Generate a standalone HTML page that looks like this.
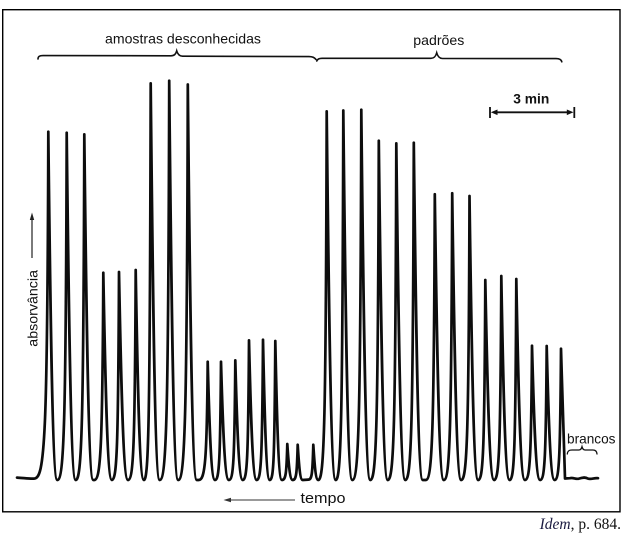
<!DOCTYPE html>
<html>
<head>
<meta charset="utf-8">
<style>
  html, body { margin: 0; padding: 0; background: #ffffff; }
  svg { display: block; }
  text { font-family: "Liberation Sans", "DejaVu Sans", sans-serif; fill: #111; }
</style>
</head>
<body>
<svg width="622" height="533" viewBox="0 0 622 533" xmlns="http://www.w3.org/2000/svg">
  <rect x="0" y="0" width="622" height="533" fill="#ffffff"/>
  <!-- frame -->
  <rect x="2.7" y="9.7" width="617.3" height="502.1" fill="none" stroke="#000" stroke-width="1.4"/>

  <!-- top labels -->
  <text x="105" y="43.4" font-size="14" textLength="156" lengthAdjust="spacingAndGlyphs">amostras desconhecidas</text>
  <text x="413.3" y="45" font-size="14" textLength="51" lengthAdjust="spacingAndGlyphs">padrões</text>

  <!-- braces -->
  <path d="M38,59 C38,56.5 39.5,55.6 43,55.6 L171,55.8 C174.5,55.8 175.8,54 176.7,50.8 C177.6,54 179,56.2 182.5,56.2 L309,56.6 C312.5,56.6 314.5,57.5 316,59.5" fill="none" stroke="#111" stroke-width="1.6" stroke-linecap="round"/>
  <path d="M316.8,61 C317.5,59 319,58.3 322,58.3 L431,58.3 C434.5,58.3 435.8,56 436.7,52.8 C437.6,56 439,58.5 442.5,58.5 L556,58.6 C559.5,58.6 561.3,59.5 561.8,61.8" fill="none" stroke="#111" stroke-width="1.6" stroke-linecap="round"/>

  <!-- 3 min scale -->
  <text x="513.3" y="103.3" font-size="14" font-weight="bold" textLength="36" lengthAdjust="spacingAndGlyphs">3 min</text>
  <path d="M494,112.3 L570,112.3" stroke="#111" stroke-width="1.8"/>
  <path d="M490,107 V118 M574.3,107 V118" stroke="#111" stroke-width="1.8"/>
  <polygon points="490.8,112.3 497.5,109.5 497.5,115.1" fill="#111"/>
  <polygon points="573.5,112.3 566.8,109.5 566.8,115.1" fill="#111"/>

  <!-- absorvância axis label -->
  <text transform="translate(37.5,346.7) rotate(-90)" font-size="14" textLength="76.7" lengthAdjust="spacingAndGlyphs">absorvância</text>
  <path d="M32,258 L32,219" stroke="#222" stroke-width="1.2"/>
  <polygon points="32,212.5 29.8,220 34.2,220" fill="#222"/>

  <!-- tempo -->
  <path d="M229,500 L295,500" stroke="#333" stroke-width="1.1"/>
  <polygon points="223.5,500 231,497.8 231,502.2" fill="#333"/>
  <text x="300.5" y="503" font-size="14.5" textLength="45" lengthAdjust="spacingAndGlyphs">tempo</text>

  <!-- brancos -->
  <text x="567" y="443.3" font-size="13.7" textLength="48.5" lengthAdjust="spacingAndGlyphs">brancos</text>
  <path d="M567.3,454 C567.5,451 569,450 572,450 L579,450 C581,450 581.5,448.5 582,446.7 C582.5,448.5 583,450 585,450 L593,450 C595.5,450 596.8,451.5 597,454" fill="none" stroke="#111" stroke-width="1.3" stroke-linecap="round"/>

  <!-- signal trace -->
  <path fill="none" stroke="#0d0d0d" stroke-width="2.7" stroke-linejoin="round" stroke-linecap="round" d="
M17,477.6 C24,478 29,478.8 34,478.6
C44.7,478.6 47.5,443.9 48.3,131.7
C50.3,305.9 52.3,480 57.3,480
C63.9,480 65.9,427.9 66.7,132.7
C68.7,306.4 70.7,480 75.7,480
C81.7,480 83.5,428.1 84.3,134.3
C86.3,307.2 88.3,480 93.3,480
L94.3,480
C100.6,480 102.5,448.9 103.3,272.7
C105.3,376.4 107.1,480 111.9,480
C116.9,480 118.2,448.8 119,272
C121,376 123,480 128,480
C133.4,480 134.9,448.5 135.7,270
C137.5,375 139.3,480 143.9,480
C148.7,480 149.9,420.5 150.7,83.3
C152.7,281.7 154.7,480 159.7,480
C166.4,480 168.4,420.1 169.2,80.7
C171.2,280.4 173.2,480 178.2,480
C184.9,480 187,420.7 187.8,84.5
C189.8,282.3 191.8,480 196.8,480
L198.7,480
C205,480 206.9,462.3 207.7,361.7
C209.3,420.9 210.9,480 215,480
C219.2,480 220.2,462.3 221,361.7
C222.7,420.9 224.5,480 228.9,480
C233.4,480 234.5,462 235.3,360.3
C236.9,420.2 238.6,480 242.8,480
C247.1,480 248.2,459 249,340.3
C250.7,410.2 252.4,480 256.7,480
C261.1,480 262.2,459 263,339.7
C264.5,409.9 266,480 269.8,480
C273.7,480 274.5,459.2 275.3,341
C276.8,410.5 278.2,480 281.9,480
C285.7,480 286.5,474.6 287.3,444
C288.5,462 289.7,480 292.7,480
C296.2,480 296.9,474.7 297.7,444.7
C298.8,462.3 299.9,480 302.7,480
L308.3,479.6
C311.8,479.6 312.5,474.7 313.3,444.7
C314.4,462.3 315.5,480 318.3,480
C324.2,480 325.9,424.7 326.7,111.3
C328.7,295.7 330.7,480 335.7,480
C341,480 342.5,424.6 343.3,110.5
C345.3,295.3 347.3,480 352.3,480
C358.6,480 360.5,424.5 361.3,109.7
C363.3,294.9 365.3,480 370.3,480
C376.3,480 378,429.1 378.8,140.7
C380.8,310.4 382.8,480 387.8,480
C393.8,480 395.5,429.5 396.3,143.3
C398.3,311.7 400.3,480 405.3,480
C411.3,480 413,429.4 413.8,142.7
C415.8,311.4 417.8,480 422.8,480
L425.8,480
C432.1,480 434,437.1 434.8,194.2
C436.8,337.1 438.8,480 443.8,480
C449.7,480 451.4,437 452.2,193.2
C454.2,336.6 456.2,480 461.2,480
C467,480 468.7,437.4 469.5,196
C471.5,338 473.3,480 478.2,480
C483.2,480 484.5,450 485.3,280
C487.3,380 489.2,480 494.1,480
C499.1,480 500.5,449.4 501.3,276
C503.1,378 504.9,480 509.6,480
C514.3,480 515.5,449.9 516.3,279
C518.2,379.5 520.1,480 524.9,480
C529.9,480 531.2,459.9 532,345.7
C533.8,412.9 535.6,480 540.1,480
C544.7,480 545.9,459.9 546.7,346
C548.4,413 550.2,480 554.6,480
C559.1,480 560.2,460.3 561,348.7
C562.5,400 564.5,460 565,478.5
L570,478.2 C573,477.2 576,479.6 579,478.6 C582,477.6 585,476.8 588,478.6 C591,479.6 594,477.8 598,478.2"/>

  <!-- citation -->
  <text x="621" y="529" text-anchor="end" font-size="15.5" style="font-family:'Liberation Serif','DejaVu Serif',serif;"><tspan font-style="italic" fill="#1a1a40">Idem</tspan>, p. 684.</text>
</svg>
</body>
</html>
